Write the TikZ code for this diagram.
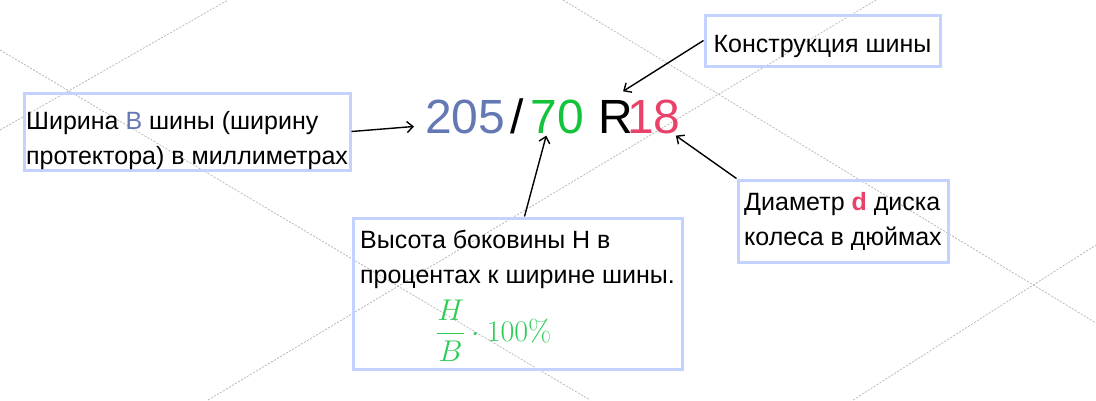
\documentclass[tikz,border=0pt]{standalone}
\usepackage{fix-cm}
\usepackage[no-math]{fontspec}
\setmainfont{Liberation Sans}
\usetikzlibrary{arrows.meta}

\definecolor{tireblue}{RGB}{100,120,180}
\definecolor{tiregreen}{RGB}{20,195,60}
\definecolor{formgreen}{RGB}{45,205,85}
\definecolor{tirered}{RGB}{232,65,106}
\definecolor{frameblue}{RGB}{196,210,255}

\newcommand{\topgap}[1]{\rule{0pt}{#1}}
\newcommand{\botgap}[1]{\rule[-#1]{0pt}{#1}}

\tikzset{
	infobox/.style={draw=frameblue, line width=3pt, align=left, inner xsep=0pt, inner ysep=0pt, font=\fontsize{25}{35}\selectfont},
	pointer/.style={-{Straight Barb[length=6pt,width=11pt]}, line width=1.4pt},
	guide/.style={black!30, line width=0.7pt, dash pattern=on 2pt off 1.5pt},
	bigpart/.style={font=\fontsize{48}{50}\selectfont, inner sep=0pt, anchor=base west}
}

\begin{document}
\begin{tikzpicture}[x=1pt,y=-1pt]
	\useasboundingbox (0,0) rectangle (1096,400);
	
	% background guide lines
	\draw[guide] (0,130) -- (228,0);
	\draw[guide] (0,50) -- (590,400);
	\draw[guide] (208,400) -- (876,0);
	\draw[guide] (563,0) -- (1096,323);
	\draw[guide] (853,400) -- (1096,245);
	
	% tyre marking
	\node[bigpart, text=tireblue] (n205) at (425,133) {205};
	\node[bigpart, xshift=5pt] (slash) at (n205.base east) {/};
	\node[bigpart, text=tiregreen, xshift=6pt] (n70) at (slash.base east) {70};
	\node[bigpart, xshift=14pt] (nR) at (n70.base east) {R};
	\node[bigpart, text=tirered, xshift=-6pt] (n18) at (nR.base east) {18};
	
	% explanations
	\node[infobox, minimum width=326pt] (width) at (187,131.5)
		{\topgap{36pt}Ширина {\color{tireblue}B} шины (ширину\\протектора) в миллиметрах\botgap{6pt}};
	\node[infobox, minimum width=235pt] (build) at (822.5,40.5)
		{\topgap{37pt}Конструкция шины\botgap{14pt}};
	\node[infobox, minimum width=329pt] (height) at (517.5,293.5)
		{\topgap{30pt}Высота боковины H в\\процентах к ширине шины.\botgap{10pt}\\
		\hspace*{76pt}\topgap{47pt}{\color{formgreen}\fontsize{30}{35}\selectfont$\displaystyle\frac{H}{B}\cdot 100\%$}\botgap{28pt}};
	\node[infobox, minimum width=210pt] (rim) at (843,221)
		{\topgap{30pt}Диаметр {\color{tirered}\bfseries d} диска\\колеса в дюймах\botgap{17pt}};
	
	\draw[pointer] (width.east) -- ([shift={(-11,10)}]n205.west);
	\draw[pointer] (build.west) -- ([shift={(-4,-8)}]n18.north west);
	\draw[pointer] ([xshift=7pt]height.north) -- ([shift={(16,2)}]n70.south west);
	\draw[pointer] (rim.north west) -- ([shift={(-5,2)}]n18.south east);
\end{tikzpicture}
\end{document}
